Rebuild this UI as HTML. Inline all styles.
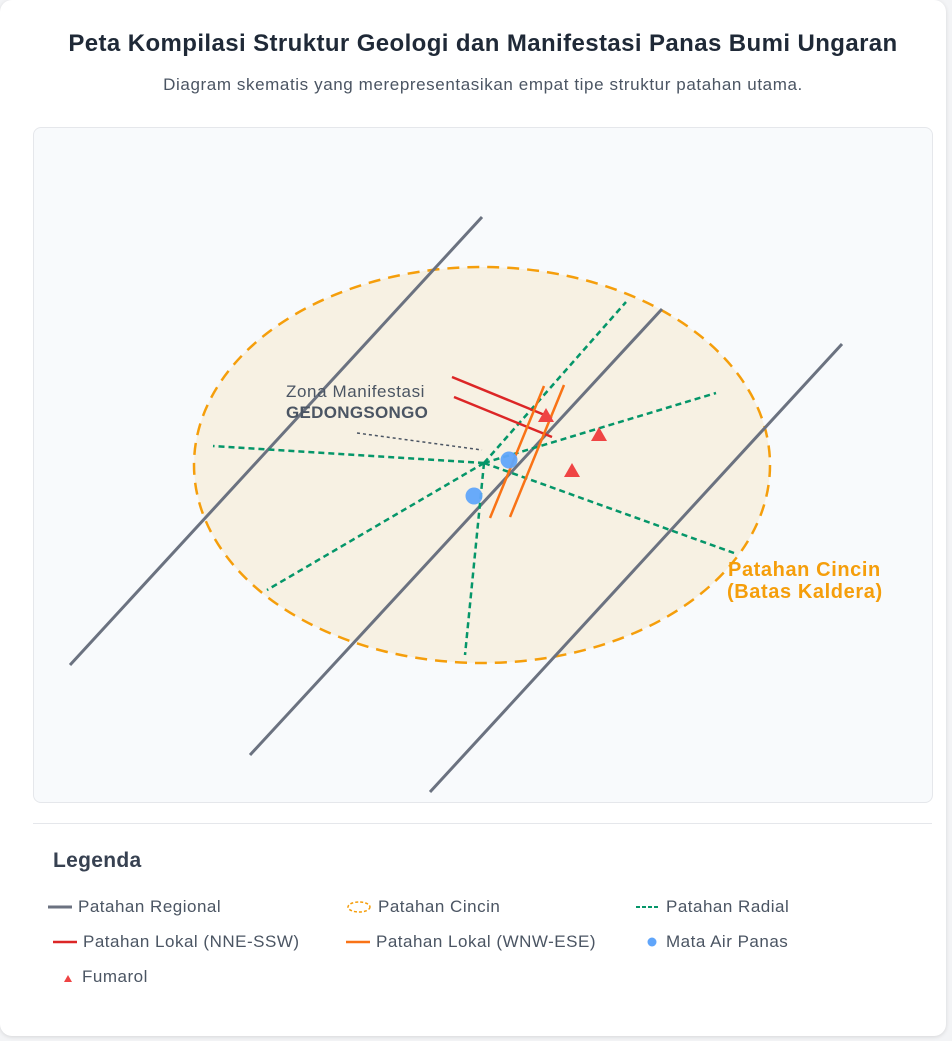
<!DOCTYPE html>
<html><head><meta charset="utf-8"><style>
body{margin:0;background:#f3f4f6;font-family:"Liberation Sans",sans-serif;}
.card{position:absolute;left:0;top:0;width:946px;height:1036px;background:#fff;border-radius:12px;box-shadow:0 1px 4px rgba(0,0,0,.12);}
h1{position:absolute;left:0;width:966px;top:30px;margin:0;text-align:center;font-size:24px;letter-spacing:0.4px;font-weight:bold;color:#1f2937;}
.sub{position:absolute;left:0;width:966px;top:75px;text-align:center;font-size:17px;letter-spacing:0.6px;color:#4b5563;}
.plot{position:absolute;left:33px;top:127px;width:898px;height:674px;background:#f8fafc;border:1px solid #e5e7eb;border-radius:8px;}
svg{position:absolute;left:0;top:0;}
.hr{position:absolute;left:33px;top:823px;width:899px;height:1px;background:#e5e7eb;}
.lg{position:absolute;left:53px;top:849px;font-size:21px;letter-spacing:0.3px;font-weight:bold;color:#374151;}
.it{position:absolute;font-size:17px;letter-spacing:0.5px;color:#4b5563;display:flex;align-items:center;gap:6px;height:20px;}
</style></head><body>
<div class="card">
<h1>Peta Kompilasi Struktur Geologi dan Manifestasi Panas Bumi Ungaran</h1>
<div class="sub">Diagram skematis yang merepresentasikan empat tipe struktur patahan utama.</div>
<div class="plot"></div>
<svg id="map" width="952" height="1041"></svg>
<div class="hr"></div>
<div class="lg">Legenda</div>
<div class="it" style="left:48px;top:897px"><svg width="24" height="4" style="position:static"><line x1="0" y1="2" x2="24" y2="2" stroke="#6b7280" stroke-width="3"/></svg>Patahan Regional</div>
<div class="it" style="left:346px;top:897px"><svg width="26" height="14" style="position:static"><ellipse cx="13" cy="7" rx="11" ry="5" fill="none" stroke="#f59e0b" stroke-width="1.5" stroke-dasharray="3 2"/></svg>Patahan Cincin</div>
<div class="it" style="left:636px;top:897px"><svg width="24" height="4" style="position:static"><line x1="0" y1="2" x2="24" y2="2" stroke="#059669" stroke-width="2" stroke-dasharray="4 2"/></svg>Patahan Radial</div>
<div class="it" style="left:53px;top:932px"><svg width="24" height="4" style="position:static"><line x1="0" y1="2" x2="24" y2="2" stroke="#dc2626" stroke-width="2.5"/></svg>Patahan Lokal (NNE-SSW)</div>
<div class="it" style="left:346px;top:932px"><svg width="24" height="4" style="position:static"><line x1="0" y1="2" x2="24" y2="2" stroke="#f97316" stroke-width="2.5"/></svg>Patahan Lokal (WNW-ESE)</div>
<div class="it" style="left:646px;top:932px"><svg width="14" height="12" style="position:static"><circle cx="6" cy="6" r="4.5" fill="#60a5fa"/></svg>Mata Air Panas</div>
<div class="it" style="left:60px;top:967px"><svg width="16" height="12" style="position:static"><polygon points="8,4 12,11 4,11" fill="#ef4444"/></svg>Fumarol</div>
</div>
<script>
const regional=[[70,665,482,217],[250,755,662,309],[430,792,842,344]];
const radialCenter=[484,463];
const radialEnds=[[626,302],[716,393],[734,553],[465,655],[267,590],[213,446]];
const lokalNNE=[[452,377,552,418],[454,397,552,437]];
const lokalWNW=[[490,518,544,386],[510,517,564,385]];
const springs=[[509,460],[474,496]];
const fumarols=[[546,416],[599,435],[572,471]];
const svg=document.getElementById('map');
const NS='http://www.w3.org/2000/svg';
function mk(t,a){const e=document.createElementNS(NS,t);for(const k in a)e.setAttribute(k,a[k]);svg.appendChild(e);return e;}
let e=mk('ellipse',{cx:482,cy:465,rx:288,ry:198,fill:'#f7f1e3',stroke:'#f59e0b','stroke-width':2.5,'stroke-dasharray':'12 8'});


regional.forEach(r=>{const l=mk('line',{x1:r[0],y1:r[1],x2:r[2],y2:r[3],stroke:'#6b7280','stroke-width':3});

});
radialEnds.forEach(p=>{const l=mk('line',{x1:radialCenter[0],y1:radialCenter[1],x2:p[0],y2:p[1],stroke:'#059669','stroke-width':2.5,'stroke-dasharray':'6 4'});

});
lokalNNE.forEach(r=>{const l=mk('line',{x1:r[0],y1:r[1],x2:r[2],y2:r[3],stroke:'#dc2626','stroke-width':2.5});

});
lokalWNW.forEach(r=>{const l=mk('line',{x1:r[0],y1:r[1],x2:r[2],y2:r[3],stroke:'#f97316','stroke-width':2.5});

});
springs.forEach(p=>{const c=mk('circle',{cx:p[0],cy:p[1],r:8.5,fill:'#60a5fa',opacity:0.95});

});
fumarols.forEach(p=>{const t=mk('polygon',{points:`${p[0]},${p[1]-8} ${p[0]+8},${p[1]+6} ${p[0]-8},${p[1]+6}`,fill:'#ef4444'});

});
let d=mk('line',{x1:357,y1:433,x2:482,y2:450,stroke:'#4b5563','stroke-width':1.5,'stroke-dasharray':'3 3'});


function txt(x,y,s,a,name){const t=mk('text',Object.assign({x:x,y:y,'font-family':'Liberation Sans, sans-serif'},a));t.textContent=s;

}
txt(286,397,'Zona Manifestasi',{'font-size':17,'letter-spacing':0.6,fill:'#4b5563'},'zone-label');
txt(286,418,'GEDONGSONGO',{'font-size':17,'letter-spacing':0.3,'font-weight':'bold',fill:'#4b5563'},'zone-name');
txt(728,576,'Patahan Cincin',{'font-size':20,'letter-spacing':0.6,'font-weight':'bold',fill:'#f59e0b'},'ring-label');
txt(727,598,'(Batas Kaldera)',{'font-size':20,'letter-spacing':0.6,'font-weight':'bold',fill:'#f59e0b'},'ring-label-sub');
</script>
</body></html>
